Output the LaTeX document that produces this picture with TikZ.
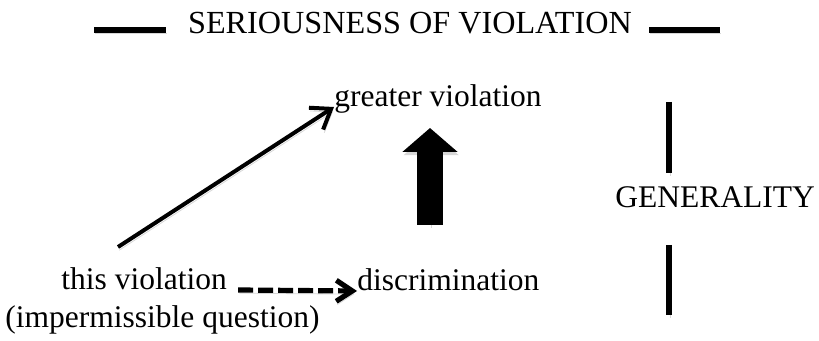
\documentclass[tikz,border=0pt]{standalone}
\usepackage{fontspec}
\setmainfont{Liberation Serif}
\usetikzlibrary{arrows.meta, positioning}

\begin{document}
\begin{tikzpicture}[x=0.5pt,y=-0.5pt,inner sep=0pt,
        font=\fontsize{15.75}{19}\selectfont,
        shade/.style={preaction={draw=black!45,opacity=0.35,transform canvas={shift={(0.6pt,-1.6pt)}}}},
        bar/.style={line width=2.6pt,shade},
        link/.style={line width=2pt,shade,-{Straight Barb[length=9pt,width=13pt]}},
        maybe/.style={line width=2.6pt,shade,dash pattern=on 7.5pt off 2.5pt,-{Straight Barb[length=8pt,width=10.5pt]}},
        big/.style={line width=13pt,shade,-{Triangle[length=12pt,width=27pt]}}]
        \useasboundingbox (0,0) rectangle (819,341);
        \node[anchor=base,font=\fontsize{16.1}{19}\selectfont]   (title)   at (410,34)    {SERIOUSNESS OF VIOLATION};
        \node[anchor=base west]   (greater)   at (334,107)   {greater violation};
        \node[anchor=base west]   (this)   at (61,290)   {this violation};
        \node[anchor=base west]   (imq)   at (5,328)   {(impermissible question)};
        \node[anchor=base west]   (disc)   at (357,291)   {discrimination};
        \node[anchor=base west]   (gen)   at (615,208)   {GENERALITY};
        \coordinate (tail) at (118,247);
        \coordinate (bot) at (430,225);
        \coordinate (top) at (430,128);

        \draw[bar] (94,30) -- (166,30);
        \draw[bar] (649,30) -- (720,30);
        \draw[link] (tail) -- (greater.base west);
        \draw[maybe] ([xshift=5.5pt]this.base east) -- (disc.base west);
        \draw[big] (bot) -- (top);
        \draw[bar] (669,102) -- (669,173);
        \draw[bar] (669,245) -- (669,315);
    \end{tikzpicture}
\end{document}
